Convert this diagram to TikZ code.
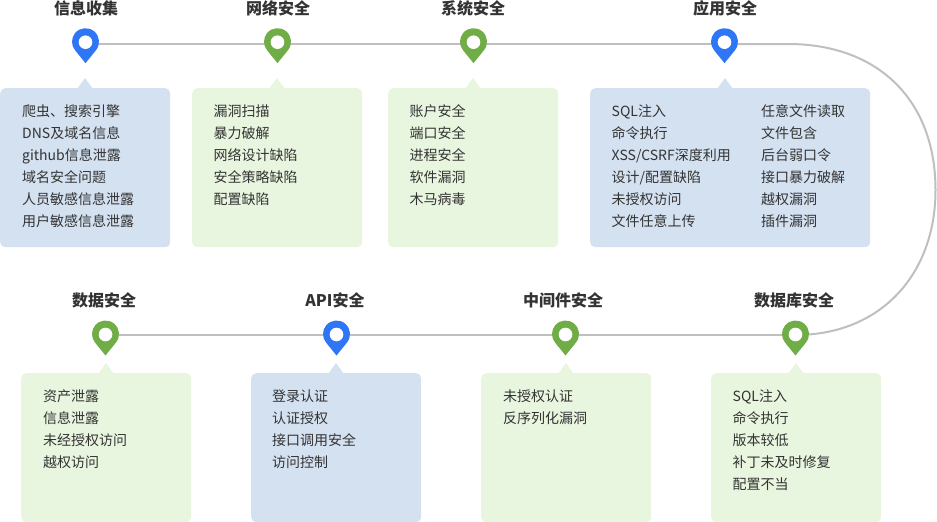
\documentclass[tikz,border=0pt]{standalone}
\usepackage{fontspec}
\setmainfont{Noto Sans CJK SC}
\definecolor{pinblue}{HTML}{2F76F6}
\definecolor{pingreen}{HTML}{70AD47}
\definecolor{boxblue}{HTML}{D4E1F1}
\definecolor{boxgreen}{HTML}{E8F5DF}
\definecolor{ink}{HTML}{333333}
\definecolor{linegray}{HTML}{BFBFBF}
\tikzset{
  x=1pt,y=-1pt,
  title/.style={font=\fontsize{16}{20}\selectfont\bfseries,text=ink,inner sep=0pt,anchor=center},
  body/.style={font=\fontsize{14}{22}\selectfont,text=ink,inner sep=0pt,anchor=north west,align=left},
  card/.style={fill=#1,rounded corners=5pt,inner sep=0pt,anchor=north west},
  conn/.style={draw=linegray,line width=2pt},
  pin/.pic={
    \fill[#1] (0,21.5) -- (40:13.5) arc[start angle=40,end angle=-220,radius=13.5] -- cycle;
    \fill[white] (0,0.5) circle[radius=6.8];
  }
}
\newcommand{\cardbox}[7]{% name, colour, x, y, w, h, caret x
  \fill[#2] (#7-8,#4+1) -- (#7,#4-10) -- (#7+8,#4+1) -- cycle;
  \node[card=#2,minimum width=#5pt,minimum height=#6pt] (#1) at (#3,#4) {};
}
\begin{document}
\begin{tikzpicture}
\useasboundingbox (0,0) rectangle (937,522);
% anchor points on the lines
\coordinate (p1) at (85.5,44);
\coordinate (p2) at (277.5,44);
\coordinate (p3) at (473.5,44);
\coordinate (p4) at (724.5,44);
\coordinate (p5) at (105.5,335);
\coordinate (p6) at (336.5,335);
\coordinate (p7) at (565.5,335);
\coordinate (p8) at (795.5,335);
% connectors
\draw[conn] (p1) -- (p2);
\draw[conn] (p2) -- (p3);
\draw[conn] (p3) -- (p4);
\draw[conn] (p4) -- (788,44) .. controls (878,44) and (935.5,100) .. (935.5,190) .. controls (935.5,275) and (880,335) .. (p8);
\draw[conn] (p5) -- (p6);
\draw[conn] (p6) -- (p7);
\draw[conn] (p7) -- (p8);
% pins
\pic at (85.5,41.7) {pin=pinblue};
\pic at (277.5,41.7) {pin=pingreen};
\pic at (473.5,41.7) {pin=pingreen};
\pic at (724.5,41.7) {pin=pinblue};
\pic at (105.5,334) {pin=pingreen};
\pic at (336.5,334) {pin=pinblue};
\pic at (565.5,334) {pin=pingreen};
\pic at (795.5,334) {pin=pingreen};
% titles
\node[title] (t1) at (86,8) {信息收集};
\node[title] (t2) at (278,8) {网络安全};
\node[title] (t3) at (473,8) {系统安全};
\node[title] (t4) at (725,8) {应用安全};
\node[title] (t5) at (104,300) {数据安全};
\node[title] (t6) at (335,300) {API安全};
\node[title] (t7) at (563,300) {中间件安全};
\node[title] (t8) at (794,300) {数据库安全};
% cards
\cardbox{c1}{boxblue}{0}{88}{170}{159}{85}
\cardbox{c2}{boxgreen}{192}{88}{170}{159}{277}
\cardbox{c3}{boxgreen}{388}{88}{170}{159}{473}
\cardbox{c4}{boxblue}{590}{88}{280}{159}{725}
\cardbox{c5}{boxgreen}{21}{373}{170}{149}{106}
\cardbox{c6}{boxblue}{251}{373}{170}{149}{336}
\cardbox{c7}{boxgreen}{481}{373}{170}{149}{566}
\cardbox{c8}{boxgreen}{711}{373}{170}{149}{796}
% card texts
\node[body] (b1) at (22,104.5) {爬虫、搜索引擎\\DNS及域名信息\\github信息泄露\\域名安全问题\\人员敏感信息泄露\\用户敏感信息泄露};
\node[body] (b2) at (213.5,104.5) {漏洞扫描\\暴力破解\\网络设计缺陷\\安全策略缺陷\\配置缺陷};
\node[body] (b3) at (409.5,104.5) {账户安全\\端口安全\\进程安全\\软件漏洞\\木马病毒};
\node[body] (b4) at (611.5,104.5) {SQL注入\\命令执行\\XSS/CSRF深度利用\\设计/配置缺陷\\未授权访问\\文件任意上传};
\node[body] (b4b) at (761,104.5) {任意文件读取\\文件包含\\后台弱口令\\接口暴力破解\\越权漏洞\\插件漏洞};
\node[body] (b5) at (43,389.5) {资产泄露\\信息泄露\\未经授权访问\\越权访问};
\node[body] (b6) at (272,389.5) {登录认证\\认证授权\\接口调用安全\\访问控制};
\node[body] (b7) at (503,389.5) {未授权认证\\反序列化漏洞};
\node[body] (b8) at (732.5,389.5) {SQL注入\\命令执行\\版本较低\\补丁未及时修复\\配置不当};
\end{tikzpicture}
\end{document}
